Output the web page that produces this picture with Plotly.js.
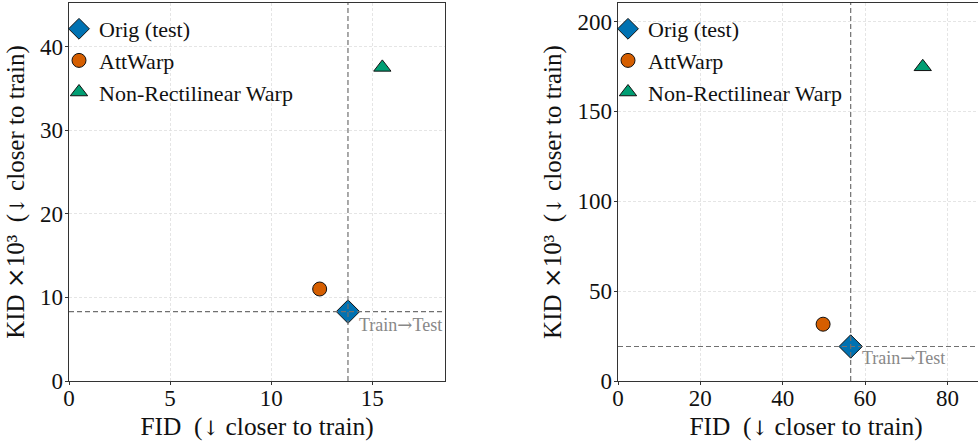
<!DOCTYPE html>
<html><head><meta charset="utf-8">
<script src="https://cdn.plot.ly/plotly-3.0.1.min.js"></script>
<style>html,body{margin:0;padding:0;overflow:hidden;background:#fff}</style>
</head><body><div id="chart" style="width:1000px;height:441px"></div>
<script>
const seriesNames = ['Orig (test)', 'AttWarp', 'Non-Rectilinear Warp'];
const leftFID = [13.8, 12.4, 15.5];
const leftKID = [8.3, 11.0, 37.5];
const rightFID = [56.5, 49.8, 74.0];
const rightKID = [19.2, 31.6, 174.8];
const colors = ['#0072B2', '#D55E00', '#009E73'];
const symbols = ['diamond', 'circle', 'triangle-up'];
const sizes = [18, 14, 15];
const ARROW_DOWN = '<span style="font-family:DejaVu Serif;font-size:20px">↓</span>';
const annotText = 'Train<span style="font-family:DejaVu Serif">→</span>Test';
const xTitle = 'FID  (' + ARROW_DOWN + ' closer to train)';
const yTitle = 'KID <span style="font-family:DejaVu Serif">×</span>10³  (' + ARROW_DOWN + ' closer to train)';

const FONT = 'Liberation Serif, Times New Roman, serif';
const traces = [];
seriesNames.forEach((n, i) => {
  traces.push({x: [leftFID[i]], y: [leftKID[i]], name: n, type: 'scatter', mode: 'markers',
    xaxis: 'x', yaxis: 'y', legend: 'legend', legendgroup: 'l' + i,
    marker: {color: colors[i], symbol: symbols[i], size: sizes[i], line: {color: '#111', width: 1}}});
});
seriesNames.forEach((n, i) => {
  traces.push({x: [rightFID[i]], y: [rightKID[i]], name: n, type: 'scatter', mode: 'markers',
    xaxis: 'x2', yaxis: 'y2', legend: 'legend2', legendgroup: 'r' + i,
    marker: {color: colors[i], symbol: symbols[i], size: sizes[i], line: {color: '#111', width: 1}}});
});

const axBase = {
  showline: true, mirror: true, linecolor: '#333', linewidth: 1.3,
  ticks: 'outside', ticklen: 3, tickcolor: '#333',
  showgrid: true, gridcolor: '#dedede', griddash: '3px,2px', gridwidth: 0.8,
  zeroline: false, tickfont: {family: FONT, size: 23, color: '#111'}
};
const xAx = Object.assign({}, axBase, {ticklabelstandoff: -7,
  title: {text: xTitle, font: {family: FONT, size: 25.4, color: '#111'}, standoff: 7}});
const yAx = Object.assign({}, axBase, {ticklabelstandoff: -3,
  title: {text: yTitle, font: {family: FONT, size: 25, color: '#111'}, standoff: 8}});
const yDom = [1 - 381/441, 1 - 3/441];
const legBase = {yanchor: 'top', xanchor: 'left', bgcolor: 'rgba(0,0,0,0)', traceorder: 'grouped',
  font: {family: FONT, size: 22, color: '#111'}, tracegroupgap: 0, itemsizing: 'trace'};
const layout = {
  width: 1000, height: 441,
  margin: {l: 0, r: 0, t: 0, b: 0},
  paper_bgcolor: '#fff', plot_bgcolor: '#fff',
  showlegend: true,
  xaxis: Object.assign({}, xAx, {domain: [69/1000, 445/1000], range: [0, 18.6], dtick: 5, anchor: 'y'}),
  yaxis: Object.assign({}, yAx, {domain: yDom, range: [0, 45.2], dtick: 10, anchor: 'x'}),
  xaxis2: Object.assign({}, xAx, {domain: [618/1000, 994/1000], range: [0, 91.3], dtick: 20, anchor: 'y2'}),
  yaxis2: Object.assign({}, yAx, {domain: yDom, range: [0, 210.3], dtick: 50, anchor: 'x2'}),
  legend: Object.assign({}, legBase, {x: 0.059, y: 1 - 8/441}),
  legend2: Object.assign({}, legBase, {x: 0.608, y: 1 - 8/441}),
  shapes: [
    {type: 'line', xref: 'x', yref: 'y domain', x0: leftFID[0], x1: leftFID[0], y0: 0, y1: 1, line: {color: '#707070', width: 1.2, dash: '5px,3px'}},
    {type: 'line', xref: 'x domain', yref: 'y', x0: 0, x1: 1, y0: leftKID[0], y1: leftKID[0], line: {color: '#707070', width: 1.2, dash: '5px,3px'}},
    {type: 'line', xref: 'x2', yref: 'y2 domain', x0: rightFID[0], x1: rightFID[0], y0: 0, y1: 1, line: {color: '#707070', width: 1.2, dash: '5px,3px'}},
    {type: 'line', xref: 'x2 domain', yref: 'y2', x0: 0, x1: 1, y0: rightKID[0], y1: rightKID[0], line: {color: '#707070', width: 1.2, dash: '5px,3px'}}
  ],
  annotations: [
    {xref: 'x', yref: 'y', x: leftFID[0], y: leftKID[0], text: annotText, showarrow: false,
     xanchor: 'left', yanchor: 'middle', xshift: 9, yshift: -13, font: {family: FONT, size: 18, color: '#888'}},
    {xref: 'x2', yref: 'y2', x: rightFID[0], y: rightKID[0], text: annotText, showarrow: false,
     xanchor: 'left', yanchor: 'middle', xshift: 9, yshift: -11, font: {family: FONT, size: 18, color: '#888'}}
  ]
};
Plotly.newPlot('chart', traces, layout, {displayModeBar: false, staticPlot: true});
</script></body></html>
